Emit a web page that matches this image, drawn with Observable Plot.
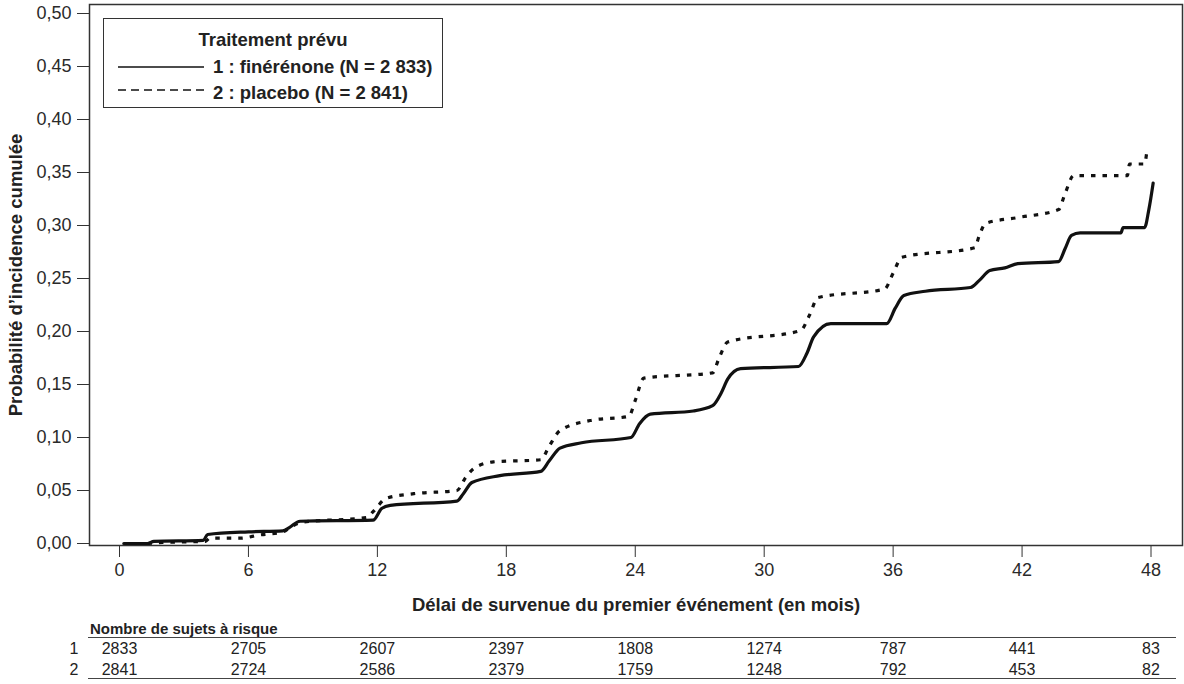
<!DOCTYPE html>
<html>
<head>
<meta charset="utf-8">
<script src="https://cdn.jsdelivr.net/npm/d3@7"></script>
<script src="https://cdn.jsdelivr.net/npm/@observablehq/plot@0.6"></script>
<style>
  html, body { margin: 0; padding: 0; background: #fff; }
  #wrap { position: relative; width: 1184px; height: 684px; font-family: "Liberation Sans", Arial, sans-serif; color: #222; overflow: hidden; }
  #legend { position: absolute; left: 103px; top: 18px; width: 338px; height: 88px; border: 1.5px solid #333; background: #fff; }
  .lg { position: absolute; font-weight: bold; font-size: 18.5px; line-height: 22px; white-space: nowrap; }
  #table { position: absolute; left: 0; top: 620px; width: 1184px; height: 64px; }
  .rule { position: absolute; left: 88px; width: 1088px; height: 0; border-top: 1.5px solid #444; }
</style>
</head>
<body>
<div id="wrap">
  <div id="chart"></div>
  <div id="legend">
    <div class="lg" style="left:0;width:100%;text-align:center;top:10px;">Traitement prévu</div>
    <svg style="position:absolute;left:0;top:0" width="338" height="88">
      <line x1="14" x2="100" y1="48" y2="48" stroke="#111" stroke-width="1.4"></line>
      <line x1="14" x2="100" y1="71" y2="71" stroke="#111" stroke-width="1.4" stroke-dasharray="8,5"></line>
    </svg>
    <div class="lg" style="left:109px;top:37px;">1 : finérénone (N = 2 833)</div>
    <div class="lg" style="left:109px;top:63px;">2 : placebo (N = 2 841)</div>
  </div>
  <div id="table">
    <div style="position:absolute;left:90px;top:0px;font-weight:bold;font-size:15px;line-height:18px;">Nombre de sujets à risque</div>
    <div class="rule" style="top:17px;"></div>
    <div class="rule" style="top:58px;"></div>
    <div id="tplot" style="position:absolute;left:0;top:0;"></div>
  </div>
</div>
<script>
// ---- Data ----
const finTime = [0.2, 1.3, 1.6, 3.9, 4.1, 6.0, 7.6, 7.9, 8.4, 11.8, 12.2, 12.6, 15.7, 16.0, 16.4, 17.7, 19.6, 20.0, 20.5, 21.5, 23.8, 24.2, 24.7, 26.7, 27.6, 28.0, 28.3, 28.9, 31.6, 32.0, 32.3, 33.1, 35.7, 36.1, 36.5, 37.5, 39.6, 40.0, 40.5, 41.2, 41.8, 43.7, 44.0, 44.3, 44.7, 46.6, 46.7, 47.7, 47.9, 48.1];
const finProb = [0, 0, 0.002, 0.003, 0.0085, 0.011, 0.012, 0.015, 0.021, 0.022, 0.033, 0.036, 0.040, 0.047, 0.0575, 0.064, 0.068, 0.078, 0.090, 0.095, 0.100, 0.113, 0.122, 0.125, 0.130, 0.142, 0.155, 0.165, 0.167, 0.180, 0.195, 0.2075, 0.2075, 0.222, 0.234, 0.238, 0.2415, 0.248, 0.2575, 0.260, 0.264, 0.266, 0.278, 0.2906, 0.293, 0.293, 0.298, 0.298, 0.315, 0.340];

const placTime = [1.3, 2.0, 4.0, 4.2, 5.6, 6.5, 7.6, 8.0, 8.5, 11.5, 11.8, 12.4, 13.7, 15.7, 16.1, 16.5, 17.4, 19.6, 20.0, 20.5, 21.9, 23.7, 24.0, 24.4, 27.6, 27.9, 28.3, 31.7, 32.1, 32.5, 35.6, 36.0, 36.4, 39.8, 40.0, 40.3, 41.8, 43.7, 44.0, 44.4, 46.9, 47.0, 47.7, 47.8];
const placProb = [0, 0.001, 0.002, 0.005, 0.005, 0.008, 0.011, 0.016, 0.020, 0.0245, 0.030, 0.0425, 0.047, 0.050, 0.062, 0.071, 0.077, 0.079, 0.092, 0.1066, 0.116, 0.120, 0.135, 0.156, 0.161, 0.175, 0.190, 0.201, 0.215, 0.232, 0.240, 0.255, 0.270, 0.279, 0.290, 0.302, 0.3075, 0.315, 0.330, 0.347, 0.347, 0.358, 0.358, 0.369];

const xTicks = [0, 6, 12, 18, 24, 30, 36, 42, 48];
const yTicks = [0, 0.05, 0.10, 0.15, 0.20, 0.25, 0.30, 0.35, 0.40, 0.45, 0.50];
const riskMonths = [0, 6, 12, 18, 24, 30, 36, 42, 48];
const risk1 = [2833, 2705, 2607, 2397, 1808, 1274, 787, 441, 83];
const risk2 = [2841, 2724, 2586, 2379, 1759, 1248, 792, 453, 82];

const fin = finTime.map((t, i) => ({t, p: finProb[i]}));
const plac = placTime.map((t, i) => ({t, p: placProb[i]}));
const risk = [
  ...riskMonths.map((m, i) => ({m, g: "1", n: risk1[i]})),
  ...riskMonths.map((m, i) => ({m, g: "2", n: risk2[i]}))
];

const W = 1184;
const xScale = {domain: [0, 48], range: [119, 1150.5]};
const fmt = d => d.toFixed(2).replace(".", ",");
const font = '"Liberation Sans", Arial, sans-serif';

const chart = Plot.plot({
  width: W,
  height: 620,
  marginLeft: 89,
  marginRight: 2,
  marginTop: 4,
  marginBottom: 75,
  style: {fontFamily: font, fontSize: "18px", color: "#2a2a2a", background: "transparent", overflow: "visible"},
  x: {...xScale},
  y: {domain: [0, 0.5], range: [543, 13]},
  marks: [
    Plot.frame({stroke: "#333", strokeWidth: 1.5}),
    Plot.axisY({ticks: yTicks, tickFormat: fmt, tickSize: 12, tickPadding: 6, fontSize: 18, label: null, stroke: "#333"}),
    Plot.axisX({ticks: xTicks, tickFormat: d => String(d), tickSize: 12, tickPadding: 6, fontSize: 18, label: null, stroke: "#333"}),
    Plot.line(plac, {x: "t", y: "p", stroke: "#111", strokeWidth: 3.2, strokeDasharray: "4.5,7", strokeLinecap: "butt", curve: "monotone-x"}),
    Plot.line(fin, {x: "t", y: "p", stroke: "#111", strokeWidth: 3.2, curve: "monotone-x"}),
    Plot.text(["Probabilité d’incidence cumulée"], {frameAnchor: "left", textAnchor: "middle", dx: -73, rotate: -90, fontWeight: "bold", fontSize: 18.5, fill: "#222"}),
    Plot.text(["Délai de survenue du premier événement (en mois)"], {frameAnchor: "bottom", textAnchor: "middle", dy: 65, fontWeight: "bold", fontSize: 18.5, fill: "#222"})
  ]
});
document.getElementById("chart").appendChild(chart);

const tplot = Plot.plot({
  width: W,
  height: 64,
  marginLeft: 89,
  marginRight: 2,
  marginTop: 17,
  marginBottom: 6,
  style: {fontFamily: font, fontSize: "16px", color: "#222", background: "transparent", overflow: "visible"},
  x: {...xScale, axis: null},
  y: {type: "point", domain: ["1", "2"], range: [28, 49], padding: 0},
  marks: [
    Plot.axisY({tickSize: 0, tickPadding: 11, fontSize: 16, label: null}),
    Plot.text(risk, {x: "m", y: "g", text: d => String(d.n), fontSize: 16, fill: "#222"})
  ]
});
document.getElementById("tplot").appendChild(tplot);
</script>
</body>
</html>
